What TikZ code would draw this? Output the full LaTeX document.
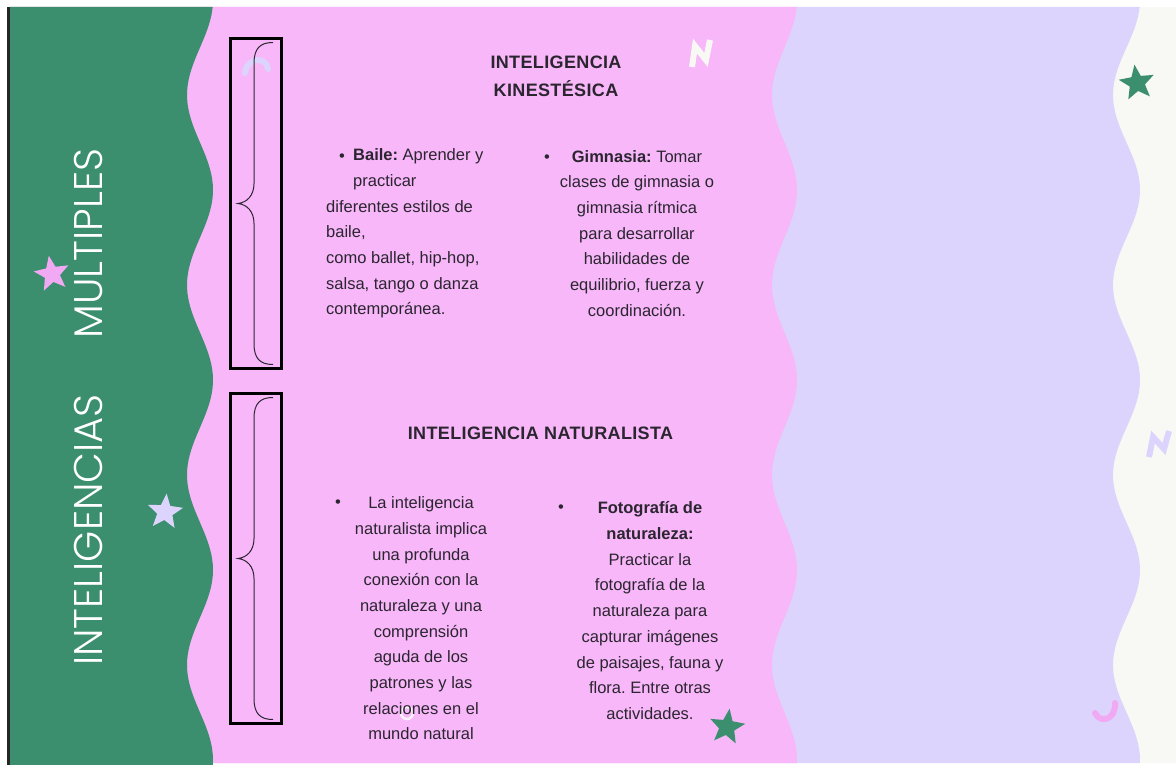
\documentclass[tikz,border=0pt]{standalone}
\usepackage{fontspec}
\setmainfont{Liberation Sans}
\newfontfamily\thinfont{Poppins Light}
\usetikzlibrary{shapes.geometric}
\frenchspacing

\definecolor{leaf}{HTML}{3B8F6F}
\definecolor{rose}{HTML}{F7B7F9}
\definecolor{lilac}{HTML}{DCD4FD}
\definecolor{paper}{HTML}{F8F8F4}
\definecolor{ink}{HTML}{2B2530}
\definecolor{rosestar}{HTML}{F0A9F2}

\tikzstyle{body}=[font=\fontsize{16.5}{25.7}\selectfont, text=ink, inner sep=0pt]
\tikzstyle{heading}=[font=\fontsize{18}{28}\selectfont\bfseries\addfontfeatures{LetterSpace=2}, text=ink, inner sep=0pt, align=center]
\tikzstyle{title}=[font=\thinfont\fontsize{40}{40}\selectfont, text=white, inner sep=0pt]
\tikzstyle{deco}=[star, star points=5, star point ratio=2.3, inner sep=0pt, minimum size=37pt]
\tikzstyle{frame}=[draw=black, line width=3pt]
\tikzstyle{brace}=[draw=ink, line width=1pt]
\tikzstyle{squiggle}=[line width=6pt, line cap=round, line join=round]
\newcommand{\wavelength}{190}

\begin{document}
\begin{tikzpicture}[x=1pt, y=-1pt]
    \useasboundingbox (0,0) rectangle (1176,765);
    % First we paint the background bands
    \fill[white] (0,0) rectangle (1176,765);
    \fill[paper] (9.5,7) rectangle (1176,763);
    \foreach \col/\cx/\amp/\bot in {lilac/1126.5/13.5/763, rose/784.5/12.5/763, leaf/200/13/765}
        \fill[\col] (9.5,7) -- plot[variable=\t, domain=7:\bot, samples=160] ({\cx+\amp*cos(\t/\wavelength*360)}, \t) -- (9.5,\bot) -- cycle;
    \fill[black!85] (7,7) rectangle (9.5,765);

    % Little decorations
    \foreach \pos/\col/\rot/\name in {(52,274)/rosestar/10/starA, (165,512)/lilac/-5/starB, (1137,83)/leaf/8/starC, (727,727)/leaf/-8/starD}
        \node[deco, fill=\col, rotate=\rot] (\name) at \pos {};
    \draw[squiggle, lilac] (245,73) .. controls (247,57) and (266,56) .. (268,69);
    \draw[squiggle, paper, line join=miter, line cap=butt] (692,67) -- (695,46) -- (706,60) -- (710,40);
    \draw[squiggle, rosestar] (1095,713) .. controls (1100,724) and (1116,720) .. (1115,703);
    \draw[squiggle, lilac, line join=miter, line cap=butt] (1149,457) -- (1153,437) -- (1164,449) -- (1169,431);
    \draw[white, line width=2.5pt, opacity=0.8] (407,713) circle (6);

    % Boxes with a curly brace inside
    \foreach \top/\bot in {38.5/368.5, 393.5/723.5} {
        \pgfmathsetmacro{\m}{(\top+\bot)/2}
        \draw[frame] (230.5,\top) rectangle (281.5,\bot);
        \draw[brace] (273,\top+4) .. controls (260,\top+4) and (254,\top+10) .. (254,\top+25)
            -- (254,\m-20) .. controls (254,\m-8) and (247,\m-1) .. (238,\m)
            .. controls (247,\m+1) and (254,\m+8) .. (254,\m+20)
            -- (254,\bot-25) .. controls (254,\bot-10) and (260,\bot-4) .. (273,\bot-4);
    }

    % Vertical title
    \node[title, rotate=90] (intel) at (88,530) {INTELIGENCIAS};
    \node[title, rotate=90] (mult) at (88,243.5) {MULTIPLES};

    % Headings
    \node[heading, anchor=north] (kinTitle) at (556,55.5) {INTELIGENCIA\\KINESTÉSICA};
    \node[heading] (natTitle) at (540.5,433) {INTELIGENCIA NATURALISTA};

    % Bullets and texts
    \foreach \pos/\name in {(342,158)/dotA, (547,159)/dotB, (338,504)/dotC, (561,509)/dotD}
        \node[body] (\name) at \pos {\textbullet};
    \node[body, align=left, anchor=north west] (baile) at (326,148.5)
        {\hspace*{27pt}\textbf{Baile:} Aprender y\\\hspace*{27pt}practicar\\diferentes estilos de\\baile,\\como ballet, hip-hop,\\salsa, tango o danza\\contemporánea.};
    \node[body, align=center, anchor=north] (gimnasia) at (637,150)
        {\textbf{Gimnasia:} Tomar\\clases de gimnasia o\\gimnasia rítmica\\para desarrollar\\habilidades de\\equilibrio, fuerza y\\coordinación.};
    \node[body, align=center, anchor=north] (naturalista) at (421,496.5)
        {La inteligencia\\naturalista implica\\una profunda\\conexión con la\\naturaleza y una\\comprensión\\aguda de los\\patrones y las\\relaciones en el\\mundo natural};
    \node[body, align=center, anchor=north] (fotografia) at (650,501.5)
        {\textbf{Fotografía de}\\\textbf{naturaleza:}\\Practicar la\\fotografía de la\\naturaleza para\\capturar imágenes\\de paisajes, fauna y\\flora. Entre otras\\actividades.};
\end{tikzpicture}
\end{document}
